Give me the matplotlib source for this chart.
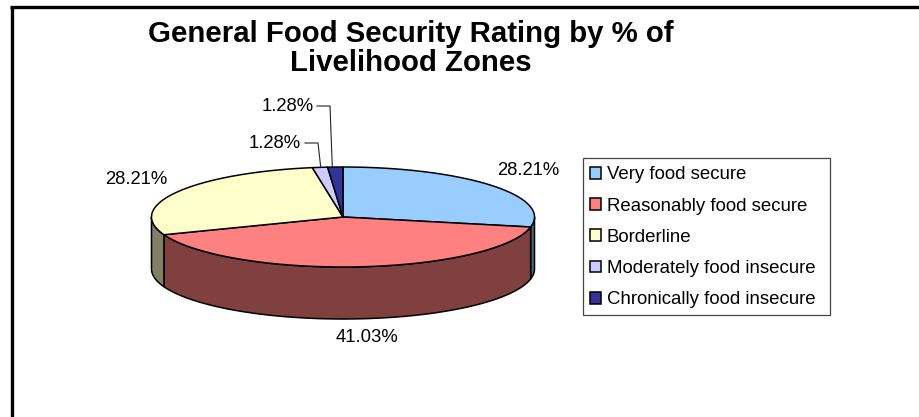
import numpy as np
import matplotlib
matplotlib.use("Agg")
import matplotlib.pyplot as plt
from matplotlib.patches import Polygon, Patch, Rectangle

plt.rcParams['font.family'] = ['Liberation Sans', 'DejaVu Sans']

categories = ["Very food secure", "Reasonably food secure", "Borderline",
              "Moderately food insecure", "Chronically food insecure"]
values = [28.21, 41.03, 28.21, 1.28, 1.28]
value_labels = ["28.21%", "41.03%", "28.21%", "1.28%", "1.28%"]
colors = ["#99CCFF", "#FF8080", "#FFFFCC", "#CCCCFF", "#333399"]
side_colors = ["#4D6680", "#804040", "#808066", "#666680", "#1A1A4D"]
title_line1 = "General Food Security Rating by % of"
title_line2 = "Livelihood Zones"

W, H = 919, 417
CX, CY, RX, RY, DEPTH = 343, 217, 191.5, 50, 52

fig = plt.figure(figsize=(W / 100, H / 100), dpi=100, facecolor="white")
ax = fig.add_axes([0, 0, 1, 1])
ax.set_xlim(0, W)
ax.set_ylim(H, 0)
ax.axis("off")


def pt(theta, dy=0.0):
    # theta: radians clockwise from 12 o'clock
    return CX + RX * np.sin(theta), CY - RY * np.cos(theta) + dy


fracs = np.array(values) / sum(values)
edges = np.concatenate([[0], np.cumsum(fracs)]) * 2 * np.pi

# sides (front half only)
for i in range(len(values)):
    a, b = max(edges[i], np.pi / 2), min(edges[i + 1], 3 * np.pi / 2)
    if b <= a:
        continue
    t = np.linspace(a, b, 120)
    x, y = pt(t)
    xy = np.r_[np.c_[x, y], np.c_[x[::-1], y[::-1] + DEPTH]]
    ax.add_patch(Polygon(xy, closed=True, fc=side_colors[i], ec="black", lw=1.1, joinstyle="round"))

# tops
for i in range(len(values)):
    t = np.linspace(edges[i], edges[i + 1], 200)
    x, y = pt(t)
    xy = np.r_[[[CX, CY]], np.c_[x, y]]
    ax.add_patch(Polygon(xy, closed=True, fc=colors[i], ec="black", lw=1.1, joinstyle="round"))

# labels
fs = 13.3
label_pos = [(528, 170.5), (367, 337.5), (136, 179.5), (275, 143.5), (288, 106.5)]
for txt, (x, y) in zip(value_labels, label_pos):
    ax.text(x, y, txt, ha="center", va="center", fontsize=fs, color="black")

# leader lines
ax.plot([305, 318, 320.7], [143, 143, 167], color="#222222", lw=0.8)
ax.plot([317, 330, 332.3], [106, 106, 167], color="#222222", lw=0.8)

# title
ax.text(411, 34, title_line1, ha="center", va="center", fontsize=21.2, fontweight="bold", color="black")
ax.text(411, 63, title_line2, ha="center", va="center", fontsize=21.2, fontweight="bold", color="black")

# outer frame
ax.plot([12, 12], [H, 7], color="black", lw=2.4, solid_capstyle="butt")
ax.plot([10.3, W], [7.2, 7.2], color="black", lw=2.4, solid_capstyle="butt")

# legend
ax.add_patch(Rectangle((582.5, 157.5), 247.5, 157.5, fc="white", ec="#444444", lw=0.9))
handles = [Patch(fc=c, ec="black", lw=1.1) for c in colors]
leg = ax.legend(handles, categories, loc="upper left", bbox_to_anchor=(590 / W, 1 - 166.5 / H),
                bbox_transform=ax.transAxes, borderaxespad=0, fontsize=13.45, frameon=False,
                labelspacing=0.76, handlelength=0.6, handleheight=0.6, handletextpad=0.3,
                borderpad=0)

fig.savefig("out.png", dpi=100, facecolor="white")
